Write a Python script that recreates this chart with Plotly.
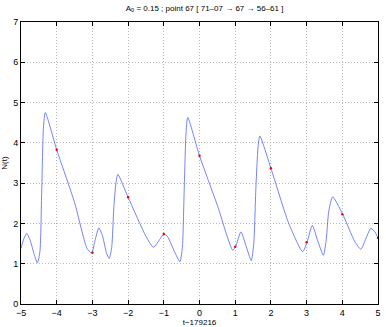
import plotly.graph_objects as go

# curve samples
t = [-5.0, -4.92, -4.84, -4.75, -4.62, -4.54, -4.47, -4.42, -4.37, -4.32,
     -4.0, -3.5, -3.15, -3.02, -2.92, -2.82, -2.72, -2.6, -2.53, -2.46,
     -2.4, -2.34, -2.29, -2.0, -1.5, -1.29, -1.1, -1.0, -0.9, -0.7,
     -0.55, -0.48, -0.43, -0.38, -0.33, 0.0, 0.5, 0.93, 1.01, 1.16,
     1.3, 1.45, 1.52, 1.58, 1.64, 1.69, 2.0, 2.5, 2.89, 3.01,
     3.16, 3.3, 3.47, 3.55, 3.62, 3.73, 4.01, 4.35, 4.52, 4.65,
     4.8, 4.92, 5.0]
N = [1.38, 1.62, 1.75, 1.6, 1.2, 1.02, 1.3, 2.8, 4.4, 4.75,
     3.83, 2.52, 1.38, 1.27, 1.6, 1.89, 1.7, 1.25, 1.13, 1.4,
     2.4, 3.0, 3.22, 2.65, 1.68, 1.41, 1.62, 1.74, 1.68, 1.3,
     1.05, 1.4, 2.8, 4.2, 4.63, 3.68, 2.45, 1.34, 1.42, 1.79,
     1.45, 1.08, 1.5, 2.9, 3.9, 4.17, 3.37, 2.0, 1.30, 1.53,
     1.95, 1.6, 1.21, 1.6, 2.3, 2.66, 2.23, 1.55, 1.36, 1.6,
     1.88, 1.78, 1.64]

# red markers at integer times
t_pts = [-4, -3, -2, -1, 0, 1, 2, 3, 4, 5]
N_pts = [3.83, 1.27, 2.65, 1.74, 3.68, 1.42, 3.37, 1.53, 2.23, 1.64]

fig = go.Figure()
fig.add_trace(go.Scatter(x=t, y=N, mode="lines", line=dict(color="#3a4dff", width=0.7, shape="spline", smoothing=0.6)))
fig.add_trace(go.Scatter(x=t_pts, y=N_pts, mode="markers", marker=dict(color="red", size=2.5)))

axis_style = dict(showline=True, linecolor="black", linewidth=1, mirror="ticks", ticks="inside", ticklen=4,
                  tickcolor="black", showgrid=True, gridcolor="#b8b8b8", griddash="1px,2px", gridwidth=1,
                  zeroline=False, tickfont=dict(size=9, color="black"), dtick=1)

fig.update_layout(
    width=386, height=327, template="none", showlegend=False,
    margin=dict(l=21, r=8, t=22, b=23),
    paper_bgcolor="white", plot_bgcolor="white",
    font=dict(family="Liberation Sans, Arial", size=9, color="black"),
    title=dict(text="A<sub>0</sub> = 0.15 ; point 67 [ 71\u201307 \u2192 67 \u2192 56\u201361 ]",
               x=0.53, xanchor="center", y=0.985, yanchor="top", font=dict(size=8)),
)
fig.update_xaxes(range=[-5, 5], title=dict(text="t\u2212179216", standoff=2, font=dict(size=8)), **axis_style)
fig.update_yaxes(range=[0, 7], title=dict(text="N(t)", standoff=4, font=dict(size=8)), **axis_style)

fig.write_html("out.html", config={"displayModeBar": False},
               post_script="document.body.style.margin='0';")
